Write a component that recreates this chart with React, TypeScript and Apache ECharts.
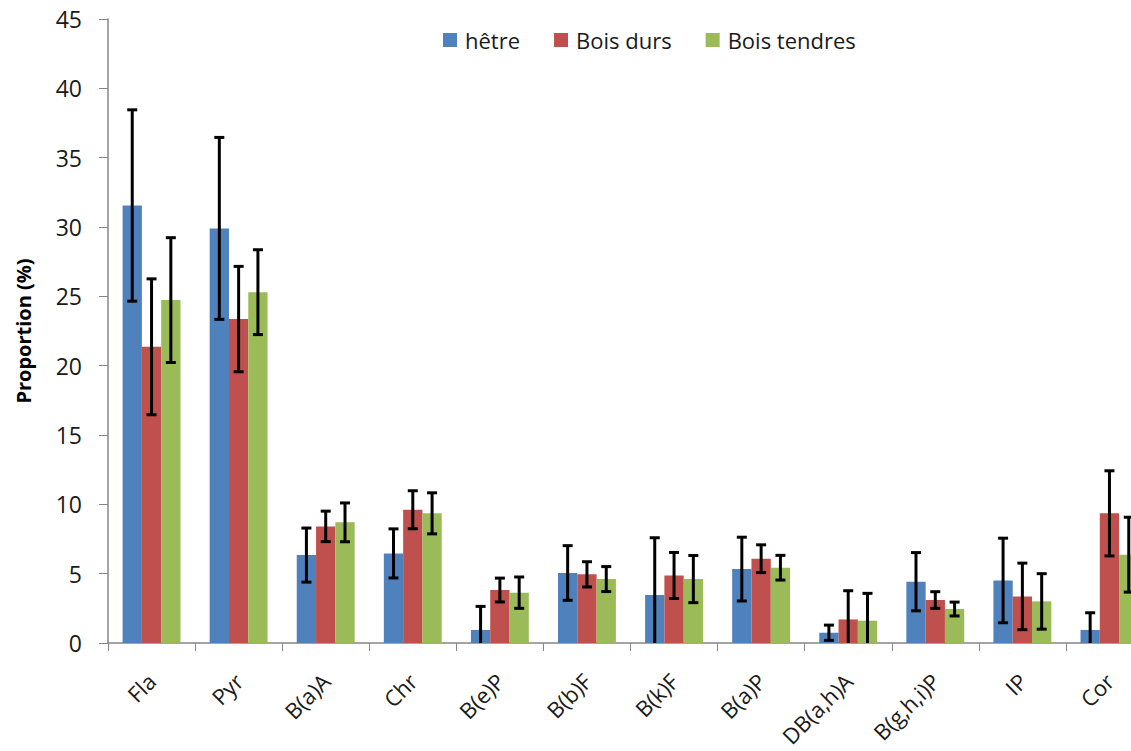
import React, { useEffect, useRef } from "react";
import * as echarts from "echarts";

const categories = ["Fla", "Pyr", "B(a)A", "Chr", "B(e)P", "B(b)F", "B(k)F", "B(a)P", "DB(a,h)A", "B(g,h,i)P", "IP", "Cor"];
const seriesNames = ["hêtre", "Bois durs", "Bois tendres"];
const hetre = [31.55, 29.9, 6.34, 6.46, 0.94, 5.05, 3.46, 5.33, 0.74, 4.42, 4.51, 0.94];
const boisDurs = [21.36, 23.36, 8.41, 9.61, 3.82, 4.95, 4.87, 6.08, 1.7, 3.1, 3.36, 9.35];
const boisTendres = [24.73, 25.3, 8.7, 9.35, 3.63, 4.61, 4.61, 5.43, 1.61, 2.45, 3.0, 6.37];
const hetreErr = [6.9, 6.56, 1.95, 1.77, 1.7, 1.97, 4.13, 2.3, 0.55, 2.1, 3.05, 1.24];
const boisDursErr = [4.9, 3.8, 1.1, 1.37, 0.86, 0.91, 1.66, 1.0, 2.07, 0.6, 2.4, 3.07];
const boisTendresErr = [4.5, 3.06, 1.4, 1.48, 1.13, 0.9, 1.7, 0.89, 1.97, 0.5, 2.0, 2.7];
const yTicks = { min: 0, max: 45, interval: 5 };

const colors = ["#4F81BD", "#C0504D", "#9BBB59"];
const BAR_W = 19.3;
const FONT = "'Open Sans', sans-serif";

export default function App() {
  const ref = useRef<HTMLDivElement>(null);
  useEffect(() => {
    document.body.style.margin = "0";
    const chart = echarts.init(ref.current!, null, { renderer: "svg" });
    const means = [hetre, boisDurs, boisTendres];
    const errs = [hetreErr, boisDursErr, boisTendresErr];
    const barSeries = means.map((m, i) => ({
      name: seriesNames[i],
      type: "bar",
      data: m,
      barWidth: BAR_W,
      barGap: "0%",
      itemStyle: { color: colors[i] },
    }));
    const errSeries = means.map((m, i) => ({
      name: seriesNames[i] + " err",
      type: "custom",
      clip: true,
      z: 5,
      data: m.map((v, k) => [k, v - errs[i][k], v + errs[i][k]]),
      encode: { x: 0, y: [1, 2] },
      renderItem: (params: any, api: any) => {
        const cat = api.value(0);
        const x = api.coord([cat, 0])[0] + (i - 1) * BAR_W;
        const yH = api.coord([cat, api.value(2)])[1];
        const yL = api.coord([cat, api.value(1)])[1];
        const cap = 5;
        const style = { stroke: "#000", lineWidth: 3 };
        return {
          type: "group",
          children: [
            { type: "line", shape: { x1: x, y1: yH, x2: x, y2: yL }, style },
            { type: "line", shape: { x1: x - cap, y1: yH, x2: x + cap, y2: yH }, style },
            { type: "line", shape: { x1: x - cap, y1: yL, x2: x + cap, y2: yL }, style },
          ],
        };
      },
    }));
    chart.setOption({
      animation: false,
      textStyle: { fontFamily: FONT },
      legend: {
        data: seriesNames,
        left: 438,
        top: 24,
        itemWidth: 14,
        itemHeight: 14,
        itemGap: 34,
        icon: "rect",
        textStyle: { fontSize: 22, color: "#1a1a1a", fontFamily: FONT, padding: [0, 0, 0, 3] },
      },
      grid: { left: 108, top: 19, width: 1045, height: 624, containLabel: false },
      xAxis: {
        type: "category",
        data: categories,
        axisLine: { lineStyle: { color: "#868686", width: 1.5 } },
        axisTick: { show: true, length: 8, lineStyle: { color: "#868686" } },
        axisLabel: { rotate: 45, margin: 34, fontSize: 22, color: "#1a1a1a", fontFamily: FONT, interval: 0 },
      },
      yAxis: {
        type: "value",
        min: yTicks.min,
        max: yTicks.max,
        interval: yTicks.interval,
        name: "Proportion (%)",
        nameLocation: "middle",
        nameGap: 75,
        nameTextStyle: { fontSize: 20, fontWeight: "bold", color: "#000", fontFamily: FONT },
        splitLine: { show: false },
        axisLine: { show: true, lineStyle: { color: "#868686", width: 1.5 } },
        axisTick: { show: true, length: 9, lineStyle: { color: "#868686" } },
        axisLabel: { fontSize: 23, color: "#1a1a1a", margin: 26, fontFamily: FONT },
      },
      series: [...barSeries, ...errSeries],
    });
    return () => chart.dispose();
  }, []);
  return (
    <div style={{ width: 1131, height: 751, overflow: "hidden", position: "relative" }}>
      <div ref={ref} style={{ width: 1190, height: 751 }} />
    </div>
  );
}
